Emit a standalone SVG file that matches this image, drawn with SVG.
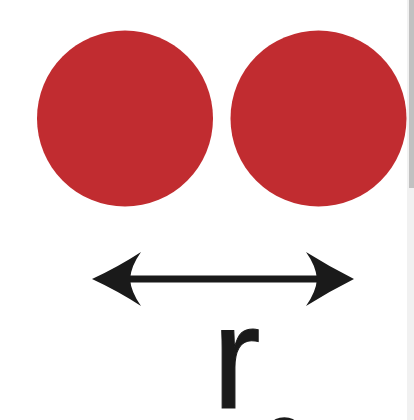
<svg xmlns="http://www.w3.org/2000/svg" width="414" height="420" viewBox="0 0 414 420">
  <style>
    .atom { fill: #c12c30; }
    .ink { fill: #1a1a1a; }
    .lbl { font-family: "Liberation Sans", Arial, sans-serif; fill: #1a1a1a; }
  </style>
  <rect x="0" y="0" width="414" height="420" fill="#ffffff"/>
  <g id="atom-left"><circle class="atom" cx="125" cy="118.5" r="88"/></g>
  <g id="atom-right"><circle class="atom" cx="318.5" cy="118.5" r="88"/></g>
  <g id="connectors">
    <rect class="ink" x="128" y="275.5" width="191" height="7"/>
    <path class="ink" d="M92,279 Q118,267 141,252 Q131,266 130,279 Q131,292 141,306 Q118,291 92,279 Z"/>
    <path class="ink" d="M354,279 Q330,267 306,252 Q316,266 317,279 Q316,292 306,306 Q330,291 354,279 Z"/>
  </g>
  <g id="label">
    <text class="lbl" x="212" y="408" font-size="146" stroke="#1a1a1a" stroke-width="1">r<tspan x="262" y="473" font-size="80" stroke="none">0</tspan></text>
  </g>
  <g id="scrollbar">
    <rect x="407" y="0" width="7" height="420" fill="#f1f1f1"/>
    <rect x="409" y="0" width="5" height="188" fill="#c1c1c1"/>
  </g>
</svg>
